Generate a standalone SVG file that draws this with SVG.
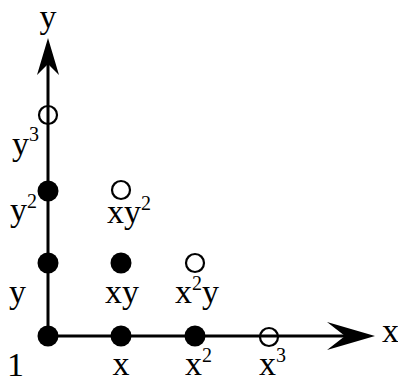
<svg xmlns="http://www.w3.org/2000/svg" width="398" height="376" viewBox="0 0 398 376">
<style>
.t{font-family:"Liberation Serif","Times New Roman",serif;font-size:34px;fill:#000}
.s{font-size:20px}
.f{fill:#000}
.o{fill:none;stroke:#000;stroke-width:2.2}
.ax{stroke:#000;stroke-width:3;fill:none}
</style>
<rect width="398" height="376" fill="#fff"/>
<g id="connectors">
<line class="ax" x1="48" y1="336" x2="345" y2="336"/>
<line class="ax" x1="48" y1="336" x2="48" y2="64"/>
<path id="xarrow" d="M375,336 L327,322 L345,336 L327,350 Z" fill="#000"/>
<path id="yarrow" d="M48,38 L37,75 L48,64 L59,75 Z" fill="#000"/>
</g>
<g id="n1"><circle class="f" cx="48" cy="336" r="10.5"/><text class="t" x="7" y="376">1</text></g>
<g id="nx"><circle class="f" cx="121" cy="336" r="10.5"/><text class="t" x="121" y="375" text-anchor="middle">x</text></g>
<g id="nx2"><circle class="f" cx="195" cy="336" r="10.5"/><text class="t" x="185" y="375">x<tspan class="s" dy="-13">2</tspan></text></g>
<g id="nx3"><circle class="o" cx="269" cy="337" r="9"/><text class="t" x="259" y="375">x<tspan class="s" dy="-13">3</tspan></text></g>
<g id="ny"><circle class="f" cx="48" cy="263" r="10.5"/><text class="t" x="9" y="303">y</text></g>
<g id="nxy"><circle class="f" cx="121" cy="263" r="10.5"/><text class="t" x="105" y="303">xy</text></g>
<g id="nx2y"><circle class="o" cx="195" cy="263" r="9"/><text class="t" x="175" y="303">x<tspan class="s" dy="-13">2</tspan><tspan dy="13">y</tspan></text></g>
<g id="ny2"><circle class="f" cx="48" cy="191" r="10.5"/><text class="t" x="10" y="221">y<tspan class="s" dy="-13">2</tspan></text></g>
<g id="nxy2"><circle class="o" cx="121" cy="190" r="9"/><text class="t" x="107" y="223">xy<tspan class="s" dy="-13">2</tspan></text></g>
<g id="ny3"><circle class="o" cx="48" cy="115" r="9"/><text class="t" x="12" y="155">y<tspan class="s" dy="-14">3</tspan></text></g>
<g id="axislabels"><text class="t" x="48" y="28" text-anchor="middle">y</text><text class="t" x="382" y="342">x</text></g>
</svg>
